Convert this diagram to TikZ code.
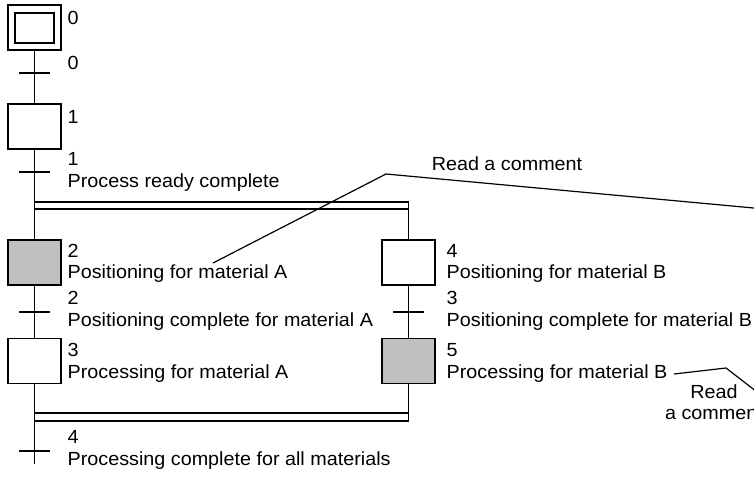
\documentclass[tikz,border=0pt]{standalone}
\usepackage{fontspec}
\setmainfont{Liberation Sans}[FakeStretch=1.04]
\definecolor{stepgray}{RGB}{192,192,192}
\begin{document}
\begin{tikzpicture}[x=1pt,y=-1pt,line width=1.4pt,
  every node/.style={font=\fontsize{19}{21.5}\selectfont},
  stepbox/.style={draw,minimum width=53pt,minimum height=45pt,inner sep=0pt,outer sep=0pt},
  active/.style={stepbox,fill=stepgray},
  lbl/.style={anchor=west,align=left,inner sep=0pt},
  commentline/.style={line width=1.2pt}]
\useasboundingbox (0,0) rectangle (754,477);
% steps
\node[stepbox] (s0) at (34.5,27.5) {};
\node[draw,minimum width=39pt,minimum height=30pt,inner sep=0pt] (s0in) at (34.5,28) {};
\node[stepbox] (s1) at (34.5,126.5) {};
\node[active] (s2) at (34.5,262.5) {};
\node[stepbox] (s3) at (34.5,361) {};
\node[stepbox] (s4) at (408.5,262.5) {};
\node[active] (s5) at (408.5,361) {};
% transitions
\coordinate (t0) at (34.5,73);
\coordinate (t1) at (34.5,172);
\coordinate (t2) at (34.5,312);
\coordinate (t3) at (408.5,312);
\coordinate (t4) at (34.5,451);
\coordinate (endL) at (34.5,464);
% divergence / convergence
\coordinate (dL1) at (34.5,202); \coordinate (dR1) at (408.5,202);
\coordinate (dL2) at (34.5,209); \coordinate (dR2) at (408.5,209);
\coordinate (cL1) at (34.5,413); \coordinate (cR1) at (408.5,413);
\coordinate (cL2) at (34.5,421); \coordinate (cR2) at (408.5,421);
% connectors
\draw (s0.south) -- (s1.north);
\draw (s1.south) -- (s2.north);
\draw (s2.south) -- (s3.north);
\draw (s3.south) -- (endL);
\draw (dR1) -- (s4.north);
\draw (s4.south) -- (s5.north);
\draw (s5.south) -- (cR2);
\draw (dL1) -- (dR1);
\draw (dL2) -- (dR2);
\draw (cL1) -- (cR1);
\draw (cL2) -- (cR2);
\foreach \t in {t0,t1,t2,t3,t4}
  \draw ([xshift=-15.5pt]\t) -- ([xshift=15.5pt]\t);
% labels
\node[lbl] (ls0) at (67,18) {0};
\node[lbl] (lt0) at (67,63) {0};
\node[lbl] (ls1) at (67,117) {1};
\node[lbl] (lt1) at (67,172) {1\\Process ready complete};
\node[lbl] (ls2) at (67,263.5) {2\\Positioning for material A};
\node[lbl] (lt2) at (67,311) {2\\Positioning complete for material A};
\node[lbl] (ls3) at (67,363) {3\\Processing for material A};
\node[lbl] (lt4) at (67,450) {4\\Processing complete for all materials};
\node[lbl] (ls4) at (446,263.5) {4\\Positioning for material B};
\node[lbl] (lt3) at (446,311) {3\\Positioning complete for material B};
\node[lbl] (ls5) at (446,363) {5\\Processing for material B};
% comments
\coordinate (c1a) at (213,263);
\coordinate (c1b) at (386,174);
\coordinate (c1c) at (770,209.5);
\draw[commentline] (c1a) -- (c1b) -- (c1c);
\node (rc1) at (507,164) {Read a comment};
\coordinate (c2a) at (674,374);
\coordinate (c2b) at (726,368);
\coordinate (c2c) at (770,402);
\draw[commentline] (c2a) -- (c2b) -- (c2c);
\node[align=center,inner sep=0pt] (rc2) at (714,402) {Read\\a comment};
\end{tikzpicture}
\end{document}
